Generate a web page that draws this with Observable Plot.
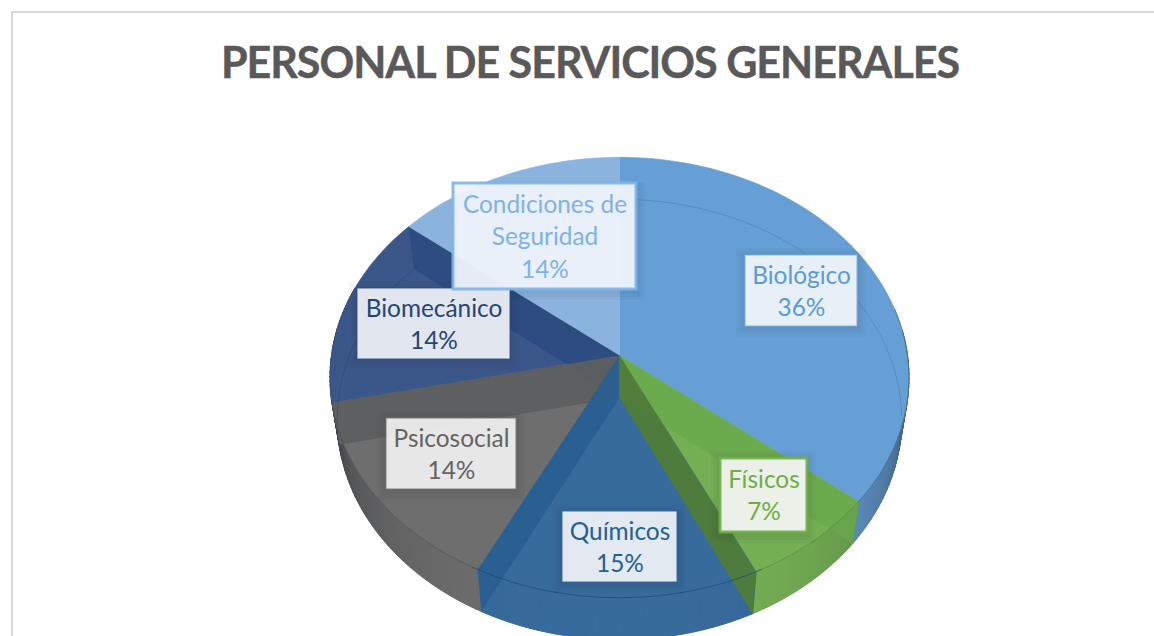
<!DOCTYPE html>
<html lang="es">
<head>
<meta charset="utf-8">
<script src="https://cdn.jsdelivr.net/npm/d3@7"></script>
<script src="https://cdn.jsdelivr.net/npm/@observablehq/plot@0.6"></script>
<style>
html,body{margin:0;padding:0;background:#fff;overflow:hidden;width:1154px;height:636px}
#frame{position:absolute;left:11px;top:11px;width:1143px;height:625px;border-left:2px solid #d9d9d9;border-top:2px solid #d9d9d9;box-sizing:border-box}
#title{position:absolute;left:13px;top:0;width:1154px;height:110px;margin:0;text-align:center;font:700 43px/124px Lato,sans-serif;letter-spacing:-1px;-webkit-text-stroke:0.45px #595959;color:#595959;white-space:nowrap}
#chart{position:absolute;left:0;top:110px;width:1154px;height:526px}
#chart svg{display:block}
</style>
</head>
<body>
<div id="frame"></div>
<h1 id="title">PERSONAL DE SERVICIOS GENERALES</h1>
<div id="chart"></div>
<script>
// Data
const chartTitle = "PERSONAL DE SERVICIOS GENERALES";
const categories = ["Biológico", "Físicos", "Químicos", "Psicosocial", "Biomecánico", "Condiciones de Seguridad"];
const shares = [35.8, 7.1, 14.5, 14.2, 14.2, 14.2];

// Styles and layout
const topColors  = ["#669ed6", "#74b053", "#376b9c", "#6e6e6e", "#3b578a", "#8ab3de"];
const textColors = ["#5b9bd5", "#70ad47", "#255e91", "#636363", "#264478", "#7fb2e5"];
const boxFills   = ["#ecf2f9", "#f0f4ee", "#e9eef4", "#ececec", "#e9ecf2", "#eef3fb"];
const boxStroke  = ["#7aaee0", "#70ad47", "#2f6496", "#777777", "#2f4f84", "#7fb2e5"];
const boxWidth   = [1, 3, 1, 1, 1, 3];
// label boxes in page pixels: left, right, top, bottom
const boxes = [[745,857,255,326],[720,807,458,532],[562,677,511,582],[386,516,418,489],[357,510,288,359],[453,636,183,289]];

const W = 1154, H = 526, CX = 619, CY = 245, RX = 288, RY = 218, K = 0.1;
const DEPTH = 42 / RY, SHRINK = 0.975;
const mx = p => (p - CX) / RX;
const my = p => (CY + 110 - p) / RY;

// Perspective projection of the pie's top and bottom discs
const top3d = a => { const u = Math.sin(a), v = Math.cos(a), w = 1 + K * v; return {x: u / w, y: v / w}; };
const bot3d = a => { const p = top3d(a); return {x: p.x * SHRINK, y: p.y - DEPTH}; };
const centerTop = {x: 0, y: 0}, centerBot = {x: 0, y: -DEPTH};

const total = d3.sum(shares);
let run = 0;
const slices = shares.map((s, i) => {
  const a0 = run / total * 2 * Math.PI; run += s;
  return {i, a0, a1: run / total * 2 * Math.PI};
});
const arc = (a0, a1, f) => {
  const n = Math.max(2, Math.ceil(Math.abs(a1 - a0) / 0.02));
  return d3.range(n + 1).map(k => f(a0 + (a1 - a0) * k / n));
};
const poly = (pts, fill, extra = {}) => Plot.line(pts, {x: "x", y: "y", fill, stroke: "none", ...extra});
const wall = (a, fill, fillOpacity) => poly([centerTop, top3d(a), bot3d(a), centerBot], fill, {fillOpacity});

const marks = [];

// Outer side wall, shaded by angle
for (const s of slices) {
  const steps = arc(s.a0, s.a1, a => a);
  for (let k = 0; k < steps.length - 1; k++) {
    const a = steps[k], b = steps[k + 1];
    if (b < Math.PI / 2 - 0.1 || a > Math.PI * 1.6) continue;
    const t = Math.min(1, Math.abs((a + b) / 2 - Math.PI) / (Math.PI / 2));
    const col = d3.interpolateRgb(topColors[s.i], "#161a20")(Math.pow(t, 2.6) * 0.72);
    marks.push(poly([top3d(a), top3d(b), bot3d(b), bot3d(a), top3d(a)], col, {stroke: col, strokeWidth: 1}));
  }
}
// Top faces
for (const s of slices) {
  const pts = [centerTop, ...arc(s.a0, s.a1, top3d), centerTop];
  marks.push(poly(pts, topColors[s.i], {stroke: topColors[s.i], strokeWidth: 0.6}));
}
// Inner walls seen through the glassy slices
const A = slices;
marks.push(wall(A[5].a0, "#2c4a80", 0.85));   // Biomecánico / Condiciones
marks.push(wall(A[4].a0, "#5d5e60", 0.95));   // Psicosocial / Biomecánico
marks.push(wall(A[3].a0, "#285f90", 0.92));   // Químicos / Psicosocial
marks.push(wall(A[1].a0, "#6aa84c", 0.75));   // Físicos / Biológico
marks.push(wall(A[2].a0, "#4f7d39", 0.97));   // Físicos / Químicos

// Faint rims
const rim = (pts, stroke, strokeOpacity, strokeWidth = 1) =>
  Plot.line(pts, {x: "x", y: "y", stroke, strokeOpacity, strokeWidth, fill: "none"});
marks.push(rim(arc(0.06, 1.65, bot3d), "#2f5f8f", 0.28));
marks.push(rim(arc(4.55, 5.42, bot3d), "#1f3560", 0.3));
marks.push(rim(arc(A[2].a0 - 0.02, A[3].a0 + 0.02, top3d), "#1d4a75", 0.8));
marks.push(rim(arc(A[1].a0, A[2].a0, top3d), "#4c7a35", 0.55));
marks.push(rim(arc(A[3].a0, A[4].a0, top3d), "#4d4d4d", 0.6));
marks.push(rim(arc(A[1].a0 - 0.9, A[1].a0, top3d), "#33587f", 0.6));

// Label shadows, boxes and text
const boxData = boxes.map(([l, r, t, b], i) => ({i, l, r, t, b}));
for (const g of [9, 6, 3]) {
  marks.push(Plot.rect(boxData, {
    // the Condiciones box overhangs the white page: no shadow out to its left and top
    x1: d => mx(d.i === 5 ? d.l : d.l - g), x2: d => mx(d.r + g),
    y1: d => my(d.i === 5 ? d.t : d.t - g + 2), y2: d => my(d.b + g + 2),
    fill: "#101828", fillOpacity: 0.03
  }));
}
boxData.forEach(d => {
  marks.push(Plot.rect([d], {
    x1: e => mx(e.l), x2: e => mx(e.r), y1: e => my(e.t), y2: e => my(e.b),
    fill: boxFills[d.i], fillOpacity: 0.96,
    stroke: boxStroke[d.i], strokeWidth: boxWidth[d.i], strokeOpacity: 0.9, inset: 0
  }));
  const label = categories[d.i].replace("de Seguridad", "de\nSeguridad") + "\n" + Math.round(shares[d.i]) + "%";
  marks.push(Plot.text([label], {
    x: () => mx((d.l + d.r) / 2), y: () => my((d.t + d.b) / 2 - 1.5),
    text: t => t, fill: textColors[d.i],
    fontFamily: "Lato, sans-serif", fontSize: 24.4, lineHeight: 1.32, textAnchor: "middle"
  }));
});

const chart = Plot.plot({
  width: W, height: H, margin: 0,
  x: {domain: [-1, 1], range: [CX - RX, CX + RX], axis: null},
  y: {domain: [-1, 1], range: [CY + RY, CY - RY], axis: null},
  style: {background: "transparent", overflow: "hidden"},
  marks
});
document.getElementById("chart").append(chart);
document.getElementById("title").textContent = chartTitle;
</script>
</body>
</html>
